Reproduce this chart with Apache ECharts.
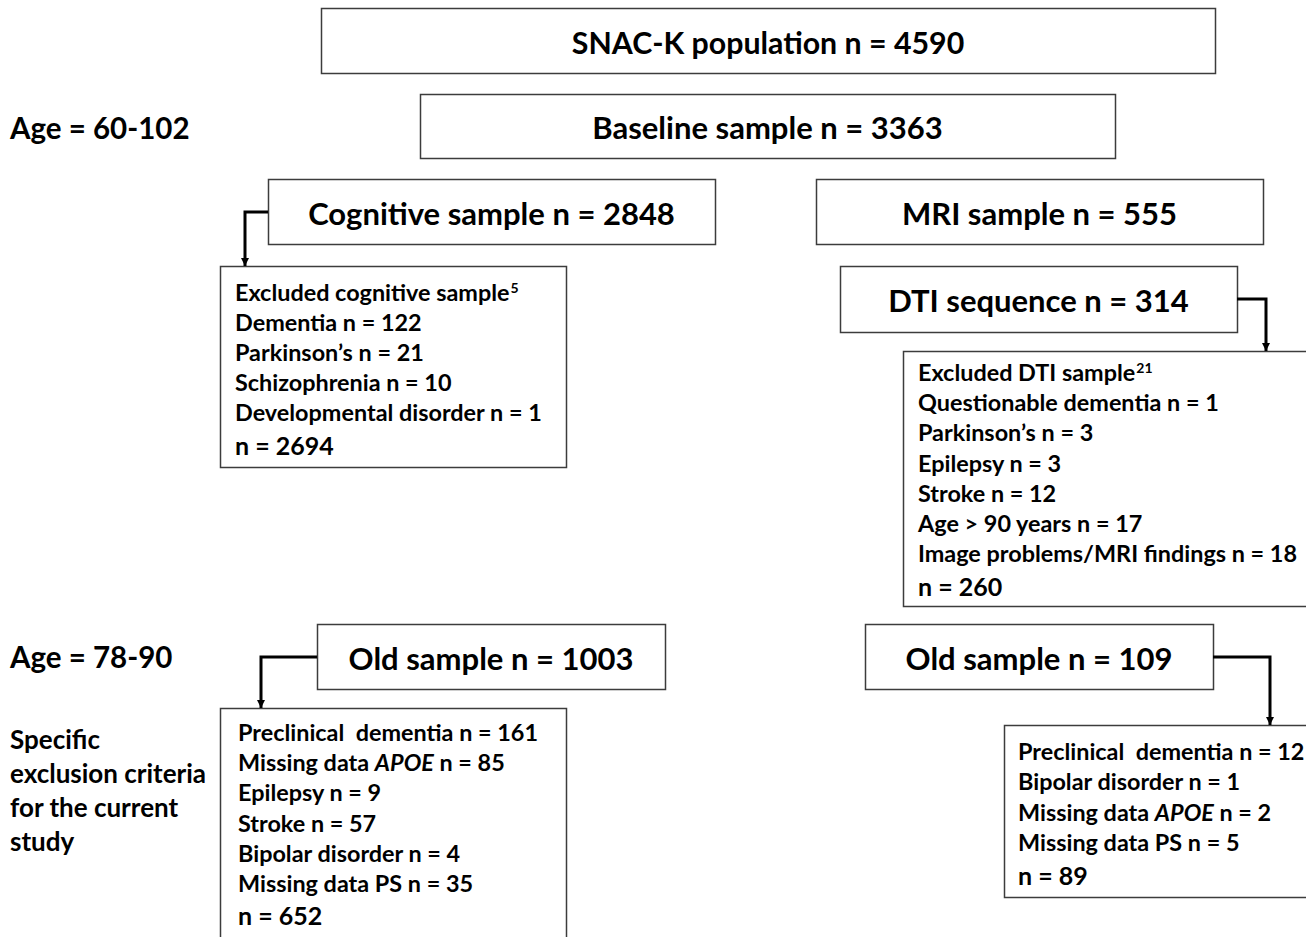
<!DOCTYPE html>
<html><head><meta charset="utf-8">
<script src="https://cdn.jsdelivr.net/npm/echarts@6/dist/echarts.min.js"></script>
<style>html,body{margin:0;padding:0;background:#fff}#c{width:1306px;height:937px}
#c svg text{font-variant-ligatures:none;font-feature-settings:"liga" 0,"clig" 0}</style>
</head><body><div id="c"></div>
<script>
// ---- content ----
const mainNodes = [
  'SNAC-K population n = 4590',
  'Baseline sample n = 3363',
  'Cognitive sample n = 2848',
  'MRI sample n = 555',
  'DTI sequence n = 314',
  'Old sample n = 1003',
  'Old sample n = 109'
];
const sideLabels = ['Age = 60-102', 'Age = 78-90'];
const criteriaLabel = ['Specific', 'exclusion criteria', 'for the current', 'study'];
const exclCognitive = [
  'Excluded cognitive sample{sup|5}',
  'Dementia n = 122',
  'Parkinson\u2019s n = 21',
  'Schizophrenia n = 10',
  'Developmental disorder n = 1'
];
const remainCognitive = 'n = 2694';
const exclDTI = [
  'Excluded DTI sample{sup|21}',
  'Questionable dementia n = 1',
  'Parkinson\u2019s n = 3',
  'Epilepsy n = 3',
  'Stroke n = 12',
  'Age > 90 years n = 17',
  'Image problems/MRI findings n = 18'
];
const remainDTI = 'n = 260';
const exclOldLeft = [
  'Preclinical  dementia n = 161',
  'Missing data {it|APOE} n = 85',
  'Epilepsy n = 9',
  'Stroke n = 57',
  'Bipolar disorder n = 4',
  'Missing data PS n = 35'
];
const remainOldLeft = 'n = 652';
const exclOldRight = [
  'Preclinical  dementia n = 12',
  'Bipolar disorder n = 1',
  'Missing data {it|APOE} n = 2',
  'Missing data PS n = 5'
];
const remainOldRight = 'n = 89';

// ---- layout ----
const FONT = 'Lato, "Open Sans", sans-serif';
const mainBoxes = [
  [321, 8, 894, 65, 30.3],
  [420, 94, 695, 64, 31],
  [268, 179, 447, 65, 31],
  [816, 179, 447, 65, 31],
  [840, 266, 397, 66, 31],
  [317, 624, 348, 65, 31],
  [865, 624, 348, 65, 31]
];
const LIST_SIZE = 23.4;
const g = [];
const rich = {
  sup: {fontSize: 14, fontWeight: 'bold', fontFamily: FONT, fill: '#000', verticalAlign: 'top', padding: [0, 0, 10, 1]},
  it: {fontSize: LIST_SIZE, fontWeight: 'bold', fontStyle: 'italic', fontFamily: FONT, fill: '#000'}
};
function rect(x, y, w, h) {
  g.push({type: 'rect', shape: {x: x + 0.5, y: y + 0.5, width: w, height: h},
    style: {fill: '#fff', stroke: '#3c3c3c', lineWidth: 1.5}, z: 1});
}
function text(x, y, t, size, align) {
  g.push({type: 'text', x: x, y: y, z: 3, style: {text: t, fontSize: size, fontWeight: 'bold', fontFamily: FONT,
    fill: '#000', align: align || 'left', verticalAlign: 'middle', rich: rich}});
}
function conn(points) {
  g.push({type: 'polyline', shape: {points: points}, style: {stroke: '#000', lineWidth: 3, fill: null}, z: 2});
  const [ex, ey] = points[points.length - 1];
  g.push({type: 'polygon', shape: {points: [[ex - 4, ey - 8], [ex + 4, ey - 8], [ex, ey]]}, style: {fill: '#000'}, z: 2});
}
mainBoxes.forEach((b, i) => {
  rect(b[0], b[1], b[2], b[3]);
  text(b[0] + b[2] / 2, b[1] + b[3] / 2 + 1, mainNodes[i], b[4], 'center');
});
function listBox(bx, by, bw, bh, tx, y0, step, lines, remain, remainGap) {
  rect(bx, by, bw, bh);
  lines.forEach((l, i) => text(tx, y0 + i * step, l, LIST_SIZE));
  text(tx, y0 + (lines.length - 1) * step + remainGap, remain, 25);
}
listBox(220, 266, 346, 201, 235, 292, 30, exclCognitive, remainCognitive, 33);
listBox(903, 351, 420, 255, 918, 372, 30.2, exclDTI, remainDTI, 33);
listBox(220, 708, 346, 260, 238, 732, 30.2, exclOldLeft, remainOldLeft, 32);
listBox(1004, 725, 320, 172, 1018, 751, 30.3, exclOldRight, remainOldRight, 33);

text(10, 127, sideLabels[0], 29.5);
text(10, 656, sideLabels[1], 29.5);
criteriaLabel.forEach((l, i) => text(10, 739 + i * 34, l, 26));

conn([[268, 212], [245, 212], [245, 266]]);
conn([[1237, 299], [1266, 299], [1266, 351]]);
conn([[317, 657], [261, 657], [261, 708]]);
conn([[1213, 657], [1270, 657], [1270, 725]]);

const chart = echarts.init(document.getElementById('c'), null, {renderer: 'svg'});
chart.setOption({backgroundColor: '#fff', graphic: {elements: g}});
</script></body></html>
